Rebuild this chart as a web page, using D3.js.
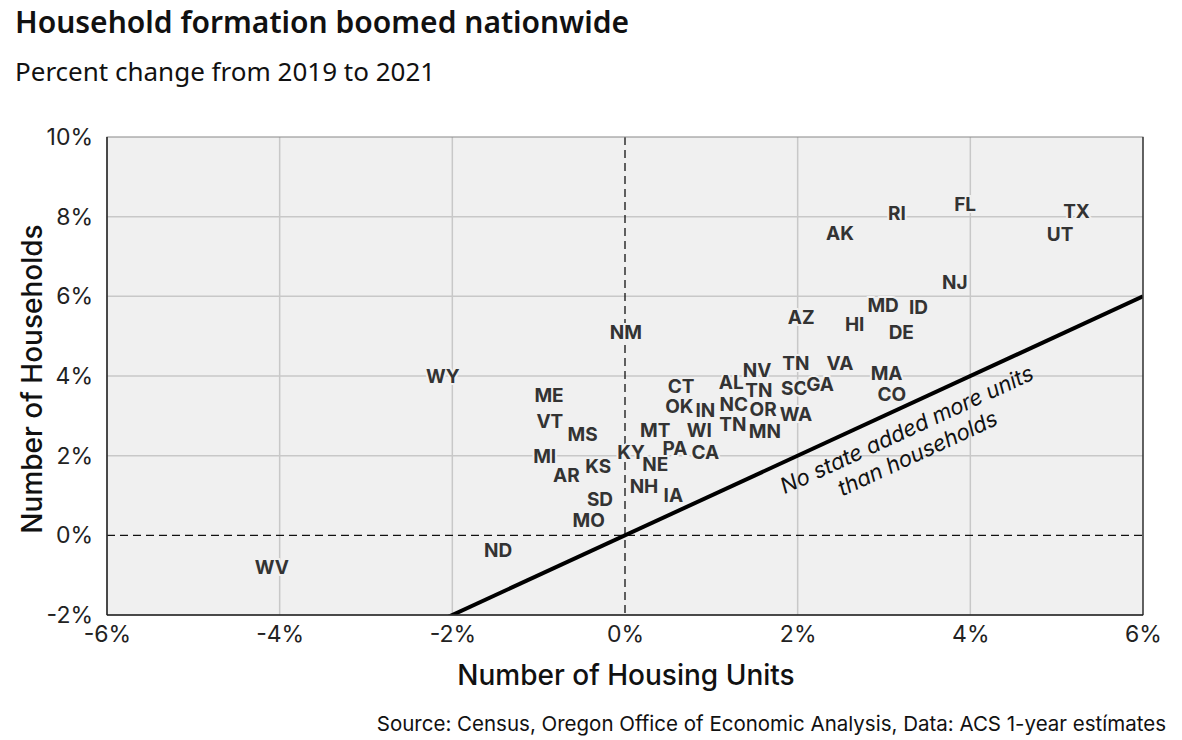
<!DOCTYPE html>
<html><head><meta charset="utf-8">
<script src="https://cdn.jsdelivr.net/npm/d3@7"></script>
<style>body{margin:0;background:#fff;}svg{display:block;}</style>
</head><body>
<svg id="c" width="1182" height="740"></svg>
<script>
const states = ["WV","ND","WY","ME","VT","MS","MI","AR","KS","SD","MO","NM","CT","OK","IN","MT","WI","KY","PA","CA","NE","NH","IA","AL","NV","TN","SC","NC","OR","WA","TN","MN","TN","GA","VA","MA","CO","AZ","HI","MD","ID","DE","NJ","AK","RI","FL","TX","UT"];
const housingUnits = [-4.09,-1.47,-2.11,-0.88,-0.87,-0.49,-0.93,-0.68,-0.31,-0.29,-0.42,0.01,0.65,0.63,0.93,0.35,0.86,0.07,0.58,0.93,0.35,0.22,0.56,1.23,1.53,1.55,1.96,1.26,1.60,1.98,1.25,1.62,1.98,2.26,2.49,3.03,3.09,2.04,2.66,2.99,3.40,3.20,3.82,2.49,3.15,3.94,5.23,5.04];
const households = [-0.80,-0.38,4.00,3.51,2.86,2.53,2.00,1.50,1.73,0.90,0.38,5.09,3.74,3.24,3.14,2.63,2.63,2.10,2.18,2.10,1.78,1.23,1.00,3.84,4.14,3.64,3.69,3.29,3.16,3.04,2.79,2.61,4.32,3.79,4.32,4.07,3.54,5.47,5.29,5.77,5.72,5.09,6.35,7.58,8.08,8.31,8.13,7.55];
const xTicks = [-6,-4,-2,0,2,4,6];
const yTicks = [-2,0,2,4,6,8,10];

const svg = d3.select("#c");
const m = {l:107, r:1143, t:137, b:615};
const x = d3.scaleLinear().domain([-6,6]).range([m.l, m.r]);
const y = d3.scaleLinear().domain([-2,10]).range([m.b, m.t]);
const font = "Inter, 'Noto Sans', sans-serif";

svg.append("text").attr("x",15).attr("y",33).attr("font-family","'Noto Sans', sans-serif")
  .attr("font-size",30).attr("font-weight",600).attr("fill","#111").text("Household formation boomed nationwide");
svg.append("text").attr("x",15).attr("y",81).attr("font-family","'Noto Sans', sans-serif")
  .attr("font-size",26).attr("fill","#111").text("Percent change from 2019 to 2021");

svg.append("defs").append("clipPath").attr("id","clip").append("rect")
  .attr("x",m.l).attr("y",m.t).attr("width",m.r-m.l).attr("height",m.b-m.t);

svg.append("rect").attr("x",m.l).attr("y",m.t).attr("width",m.r-m.l).attr("height",m.b-m.t).attr("fill","#f0f0f0");

const g = svg.append("g");
g.selectAll(".gx").data(xTicks.filter(d=>d!==0 && d>-6 && d<6)).join("line")
  .attr("x1",d=>x(d)).attr("x2",d=>x(d)).attr("y1",m.t).attr("y2",m.b).attr("stroke","#c8c8c8").attr("stroke-width",1.5);
g.selectAll(".gy").data(yTicks.filter(d=>d!==0 && d>-2 && d<10)).join("line")
  .attr("y1",d=>y(d)).attr("y2",d=>y(d)).attr("x1",m.l).attr("x2",m.r).attr("stroke","#c8c8c8").attr("stroke-width",1.5);

g.append("line").attr("x1",x(0)).attr("x2",x(0)).attr("y1",m.t).attr("y2",m.b).attr("stroke","#111").attr("stroke-width",1.3).attr("stroke-dasharray","8,5");
g.append("line").attr("y1",y(0)).attr("y2",y(0)).attr("x1",m.l).attr("x2",m.r).attr("stroke","#111").attr("stroke-width",1.3).attr("stroke-dasharray","8,5");

// y = x reference line
const lineData = [[-6,-6],[6,6]];
g.append("path").attr("clip-path","url(#clip)")
  .attr("d", d3.line().x(d=>x(d[0])).y(d=>y(d[1]))(lineData))
  .attr("stroke","#000").attr("stroke-width",4).attr("fill","none");

// annotation
const ang = -Math.atan((y(0)-y(1))/(x(1)-x(0)))*180/Math.PI;
const ann = g.append("text").attr("font-family",font).attr("font-style","italic").attr("font-size",22).attr("fill","#111")
  .attr("text-anchor","middle")
  .attr("transform",`translate(${x(3.30)},${y(2.48)}) rotate(${ang})`);
ann.append("tspan").attr("x",0).attr("y",0).text("No state added more units");
ann.append("tspan").attr("x",0).attr("y",26).text("than households");

// labels
g.selectAll(".lab").data(states.map((s,i)=>({s, hx:housingUnits[i], hh:households[i]}))).join("text")
  .attr("x",d=>x(d.hx)).attr("y",d=>y(d.hh)).attr("dy","0.36em")
  .attr("text-anchor","middle").attr("font-family",font).attr("font-weight",700).attr("font-size",19)
  .attr("fill","#333").attr("stroke","#f0f0f0").attr("stroke-width",4).attr("paint-order","stroke")
  .text(d=>d.s);

// frame
svg.append("rect").attr("x",m.l).attr("y",m.t).attr("width",m.r-m.l).attr("height",m.b-m.t).attr("fill","none").attr("stroke","#888").attr("stroke-width",1);
svg.append("line").attr("x1",m.l).attr("x2",m.l).attr("y1",m.t).attr("y2",m.b).attr("stroke","#222").attr("stroke-width",1.5);
svg.append("line").attr("x1",m.l).attr("x2",m.r).attr("y1",m.b).attr("y2",m.b).attr("stroke","#222").attr("stroke-width",1.5);
svg.append("line").attr("x1",m.r).attr("x2",m.r).attr("y1",m.t).attr("y2",m.b).attr("stroke","#222").attr("stroke-width",1.2);

// axes
const xAx = svg.append("g").attr("transform",`translate(0,${m.b})`)
  .call(d3.axisBottom(x).tickValues(xTicks).tickFormat(d=>d+"%").tickSize(0).tickPadding(11));
const yAx = svg.append("g").attr("transform",`translate(${m.l},0)`)
  .call(d3.axisLeft(y).tickValues(yTicks).tickFormat(d=>d+"%").tickSize(0).tickPadding(14));
[xAx,yAx].forEach(a=>{a.select(".domain").remove();a.selectAll("text").attr("font-family",font).attr("font-size",23).attr("fill","#222");});

svg.append("text").attr("x",626).attr("y",685).attr("text-anchor","middle").attr("font-family",font)
  .attr("font-size",28).attr("font-weight",500).attr("fill","#111").text("Number of Housing Units");
svg.append("text").attr("transform",`translate(42,${(m.t+m.b)/2 + 3}) rotate(-90)`).attr("text-anchor","middle").attr("font-family",font)
  .attr("font-size",28).attr("font-weight",500).attr("fill","#111").text("Number of Households");

svg.append("text").attr("x",1166).attr("y",731).attr("text-anchor","end").attr("font-family",font)
  .attr("font-size",20.5).attr("fill","#111").text("Source: Census, Oregon Office of Economic Analysis, Data: ACS 1-year estímates");
</script>
</body></html>
